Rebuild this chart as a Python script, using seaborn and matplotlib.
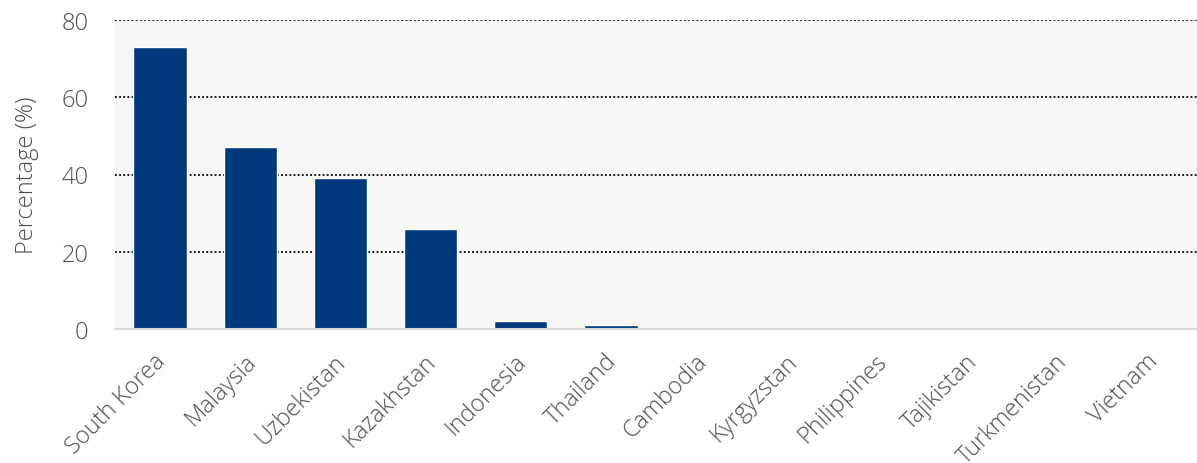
import matplotlib
matplotlib.use("Agg")
import matplotlib.pyplot as plt
import matplotlib.transforms as mtransforms
import seaborn as sns
import pandas as pd

countries = ["South Korea", "Malaysia", "Uzbekistan", "Kazakhstan", "Indonesia", "Thailand",
             "Cambodia", "Kyrgyzstan", "Philippines", "Tajikistan", "Turkmenistan", "Vietnam"]
values = [73, 47, 39, 26, 2, 1, 0, 0, 0, 0, 0, 0]
yticks = [0, 20, 40, 60, 80]

df = pd.DataFrame({"country": countries, "value": values})

sns.set_theme(style="white")
plt.rcParams["font.family"] = ["Open Sans", "DejaVu Sans"]

TEXT = "#4f4f4f"

fig = plt.figure(figsize=(11.97, 4.64), dpi=100)
ax = fig.add_axes([115/1197, 1-330/464, 1-115/1197, (330-21)/464])
ax.set_facecolor("#f8f7f5")

sns.barplot(data=df, x="country", y="value", color="#003a7d", saturation=1,
            width=0.59, ax=ax, zorder=3)

ax.set_ylim(0, 80)
ax.set_yticks(yticks)
ax.set_xlim(-0.5, len(countries) - 0.5)
ax.yaxis.grid(True, linestyle=(0, (1, 1.3)), color="black", linewidth=1.3, zorder=1)
ax.set_axisbelow(True)

for s in ["top", "right", "left"]:
    ax.spines[s].set_visible(False)
ax.spines["bottom"].set_color("#d9d9d9")
ax.spines["bottom"].set_linewidth(1.5)
ax.spines["bottom"].set_zorder(4)

ax.tick_params(axis="y", length=0, pad=19, labelsize=17, labelcolor=TEXT)
ax.tick_params(axis="x", length=0, pad=10, labelsize=17, labelcolor=TEXT)
offset = mtransforms.ScaledTranslation(-0.06, -0.06, fig.dpi_scale_trans)
for lab in ax.get_xticklabels():
    lab.set_rotation(45)
    lab.set_ha("right")
    lab.set_rotation_mode("anchor")
    lab.set_fontweight("light")
    lab.set_transform(lab.get_transform() + offset)
for lab in ax.get_yticklabels():
    lab.set_fontweight("light")

ax.set_xlabel("")
ax.set_ylabel("Percentage (%)", fontsize=17, color=TEXT, fontweight="light", labelpad=16)

fig.savefig("out.png", dpi=100)
